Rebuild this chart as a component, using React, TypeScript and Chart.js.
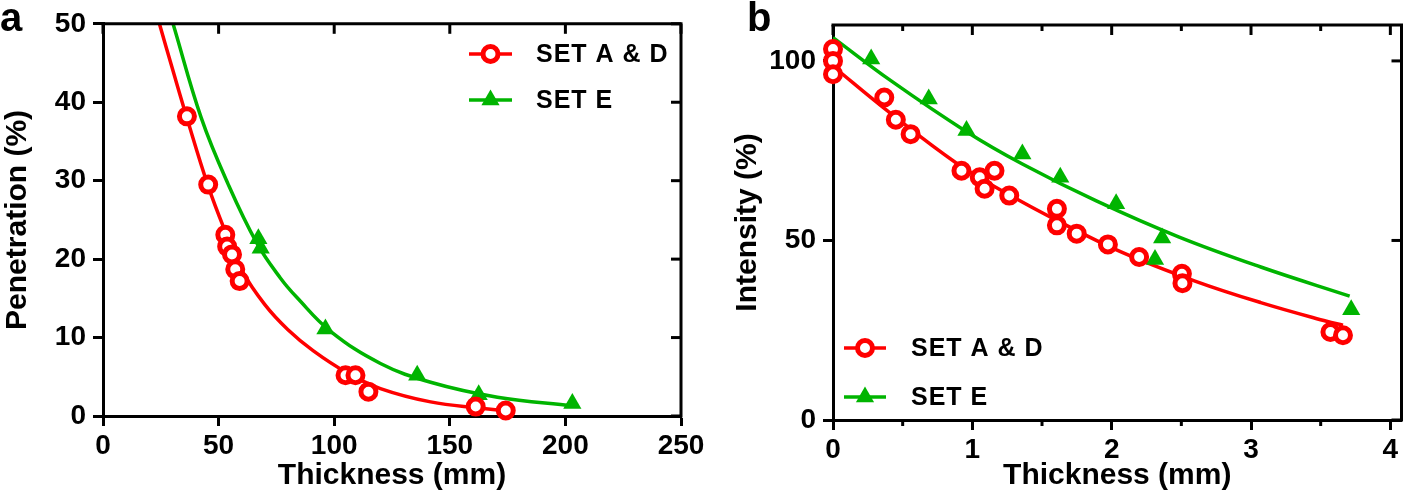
import React, { useEffect, useRef } from 'react';
import { Chart, registerables } from 'chart.js';

Chart.register(...registerables);

// ---------- Panel a data ----------
const aTicksX = [0, 50, 100, 150, 200, 250];
const aTicksY = [0, 10, 20, 30, 40, 50];
const aSetADx = [36.3, 45.5, 52.9, 53.7, 55.8, 57.2, 59.1, 104.9, 109.2, 114.8, 161.2, 174.2];
const aSetADy = [38.2, 29.5, 23.1, 21.6, 20.6, 18.7, 17.2, 5.2, 5.2, 3.1, 1.2, 0.7];
const aSetEx = [67.2, 68.2, 96.2, 135.9, 162.5, 203.0];
const aSetEy = [22.6, 21.4, 11.1, 5.2, 2.7, 1.6];
const aFitADx = [24.4, 30, 36.3, 45.5, 52.9, 60, 70, 80, 91, 105.6, 120, 141.7, 163.3, 174.9];
const aFitADy = [50, 44.3, 38.0, 29.3, 23.5, 18.6, 14.2, 11.0, 8.3, 5.5, 3.5, 1.8, 1.0, 0.65];
const aFitEx = [30.3, 42.5, 54.2, 66.6, 76.7, 83.9, 98.4, 120, 141.7, 170.6, 203.2];
const aFitEy = [50, 38.0, 29.5, 22.0, 17.6, 15.1, 10.8, 6.7, 4.3, 2.4, 1.3];

// ---------- Panel b data ----------
const bTicksX = [0, 1, 2, 3, 4];
const bMinorX = [0.5, 1.5, 2.5, 3.5];
const bTicksY = [0, 50, 100];
const bSetADx = [0, 0, 0, 0.368, 0.451, 0.557, 0.922, 1.053, 1.088, 1.159, 1.265, 1.607, 1.607, 1.749, 1.973, 2.197, 2.504, 2.508, 3.57, 3.66];
const bSetADy = [103.3, 100, 96.3, 89.8, 83.6, 79.6, 69.4, 67.6, 64.4, 69.4, 62.5, 58.8, 54.2, 51.9, 48.9, 45.4, 40.7, 38.1, 24.5, 23.6];
const bSetEx = [0.274, 0.687, 0.958, 1.359, 1.631, 2.032, 2.311, 2.362, 3.719];
const bSetEy = [100.5, 89.4, 80.6, 74.1, 67.6, 60.2, 44.7, 50.7, 30.7];
const bFitADx = [0, 0.4, 0.887, 1.265, 1.595, 2.067, 2.598, 3.07, 3.542, 3.66];
const bFitADy = [98.5, 85.8, 71.5, 62.7, 55.8, 46.8, 38.7, 32.7, 27.5, 26.4];
const bFitEx = [0, 0.415, 0.958, 1.359, 1.89, 2.48, 3.07, 3.708];
const bFitEy = [106.5, 94.5, 80.3, 71.3, 61.0, 51.0, 42.6, 34.5];

const seriesLabels = ['SET A & D', 'SET E'];

const RED = '#ff0000';
const GREEN = '#00b400';
const FONT = "'Liberation Sans', Arial, Helvetica, sans-serif";

const zip = (xs: number[], ys: number[]) => xs.map((x, i) => ({ x, y: ys[i] }));

function drawMarker(ctx: CanvasRenderingContext2D, kind: string, x: number, y: number) {
  ctx.save();
  if (kind === 'circle') {
    ctx.beginPath();
    ctx.arc(x, y, 7.5, 0, Math.PI * 2);
    ctx.fillStyle = '#fff';
    ctx.fill();
    ctx.lineWidth = 5;
    ctx.strokeStyle = RED;
    ctx.stroke();
  } else {
    const r = 10.5;
    ctx.beginPath();
    for (let k = 0; k < 3; k++) {
      const a = (k * 2 * Math.PI) / 3;
      const px = x + Math.sin(a) * r;
      const py = y - Math.cos(a) * r;
      if (k === 0) ctx.moveTo(px, py); else ctx.lineTo(px, py);
    }
    ctx.closePath();
    ctx.fillStyle = GREEN;
    ctx.fill();
  }
  ctx.restore();
}

const framePlugin = {
  id: 'frame',
  afterDraw(chart: any, _args: any, opts: any) {
    const { ctx, chartArea } = chart;
    const { left, right, top, bottom } = chartArea;
    const xs = chart.scales.x;
    const ys = chart.scales.y;
    ctx.save();
    ctx.strokeStyle = '#000';
    ctx.lineWidth = 3;
    ctx.lineCap = 'butt';
    ctx.beginPath();
    ctx.moveTo(left - 1.5, top);
    ctx.lineTo(right, top);
    ctx.lineTo(right, bottom + 1.5);
    ctx.stroke();
    const seg = (x1: number, y1: number, x2: number, y2: number) => {
      ctx.beginPath();
      ctx.moveTo(x1, y1);
      ctx.lineTo(x2, y2);
      ctx.stroke();
    };
    (opts.topMajor || []).forEach((v: number) => {
      const p = xs.getPixelForValue(v);
      seg(p, top, p, top + 10);
    });
    (opts.topMinor || []).forEach((v: number) => {
      const p = xs.getPixelForValue(v);
      seg(p, top, p, top + 6);
      seg(p, bottom, p, bottom + 6);
    });
    (opts.rightMajor || []).forEach((v: number) => {
      const p = ys.getPixelForValue(v);
      seg(right, p, right - 10, p);
    });
    ctx.restore();
  },
};

const legendPlugin = {
  id: 'customLegend',
  afterDraw(chart: any, _args: any, opts: any) {
    const { ctx } = chart;
    ctx.save();
    (opts.items || []).forEach((it: any, i: number) => {
      const y = opts.y + i * opts.gap;
      ctx.strokeStyle = it.color;
      ctx.lineWidth = 3.5;
      ctx.beginPath();
      ctx.moveTo(opts.x, y);
      ctx.lineTo(opts.x + opts.len, y);
      ctx.stroke();
      drawMarker(ctx, it.kind, opts.x + opts.len / 2, y);
      ctx.fillStyle = '#000';
      ctx.font = `bold 25px ${FONT}`;
      (ctx as any).letterSpacing = '1px';
      ctx.textBaseline = 'middle';
      ctx.textAlign = 'left';
      ctx.fillText(it.label, opts.textX, y + 1);
    });
    ctx.restore();
  },
};

function axis(opts: any) {
  return {
    type: 'linear',
    min: opts.min,
    max: opts.max,
    afterBuildTicks: (s: any) => {
      s.ticks = opts.ticks.map((v: number) => ({ value: v }));
    },
    afterFit: opts.afterFit,
    ticks: {
      color: '#000',
      font: { family: FONT, weight: 'bold', size: 28 },
      padding: opts.tickPad,
      autoSkip: false,
      maxRotation: 0,
      callback: (v: any) => String(v),
    },
    grid: {
      display: true,
      drawOnChartArea: false,
      drawTicks: true,
      tickLength: 10,
      tickWidth: 3,
      tickColor: '#000',
    },
    border: { display: true, color: '#000', width: 3 },
    title: {
      display: true,
      text: opts.title,
      color: '#000',
      font: { family: FONT, weight: 'bold', size: 30 },
      padding: { top: 0, bottom: 0 },
    },
  };
}

function makeConfig(p: any) {
  return {
    type: 'scatter',
    data: {
      datasets: [
        {
          label: seriesLabels[0],
          data: p.ad,
          showLine: false,
          pointStyle: 'circle',
          pointRadius: 7.5,
          pointBorderWidth: 5,
          pointBorderColor: RED,
          pointBackgroundColor: '#fff',
          clip: false,
        },
        {
          label: seriesLabels[1],
          data: p.e,
          showLine: false,
          pointStyle: 'triangle',
          pointRadius: 10.5,
          pointBorderWidth: 0,
          pointBorderColor: GREEN,
          pointBackgroundColor: GREEN,
          clip: false,
        },
        {
          label: 'fit A&D',
          data: p.fitAd,
          showLine: true,
          pointRadius: 0,
          borderColor: RED,
          borderWidth: 3.5,
          tension: 0.4,
        },
        {
          label: 'fit E',
          data: p.fitE,
          showLine: true,
          pointRadius: 0,
          borderColor: GREEN,
          borderWidth: 3.5,
          tension: 0.4,
        },
      ],
    },
    options: {
      responsive: false,
      animation: false,
      events: [],
      layout: { padding: p.padding },
      plugins: {
        legend: { display: false },
        tooltip: { enabled: false },
        frame: p.frame,
        customLegend: p.legend,
      },
      scales: {
        x: axis({
          min: p.xMin, max: p.xMax, ticks: p.xTicks, title: 'Thickness (mm)', tickPad: 3,
          afterFit: (s: any) => { s.height = p.xAxisH; },
        }),
        y: axis({
          min: p.yMin, max: p.yMax, ticks: p.yTicks, title: p.yTitle, tickPad: 7,
          afterFit: (s: any) => { s.width = 103; },
        }),
      },
    },
    plugins: [framePlugin, legendPlugin],
  };
}

function ChartCanvas({ config, left, width }: any) {
  const ref = useRef<HTMLCanvasElement>(null);
  useEffect(() => {
    const chart = new Chart(ref.current as HTMLCanvasElement, config);
    return () => chart.destroy();
  }, []);
  return (
    <canvas
      ref={ref}
      width={width}
      height={494}
      style={{ position: 'absolute', left, top: 0, width, height: 494 }}
    />
  );
}

const configA = makeConfig({
  ad: zip(aSetADx, aSetADy),
  e: zip(aSetEx, aSetEy),
  fitAd: zip(aFitADx, aFitADy),
  fitE: zip(aFitEx, aFitEy),
  xMin: 0, xMax: 250, xTicks: aTicksX,
  yMin: 0, yMax: 50, yTicks: aTicksY,
  yTitle: 'Penetration (%)',
  xAxisH: 78,
  padding: { top: 20, right: 49, left: 0, bottom: 0 },
  frame: { topMajor: aTicksX, rightMajor: aTicksY },
  legend: {
    x: 469, len: 43, textX: 536, y: 54, gap: 46,
    items: [
      { label: seriesLabels[0], color: RED, kind: 'circle' },
      { label: seriesLabels[1], color: GREEN, kind: 'triangle' },
    ],
  },
});

const configB = makeConfig({
  ad: zip(bSetADx, bSetADy),
  e: zip(bSetEx, bSetEy),
  fitAd: zip(bFitADx, bFitADy),
  fitE: zip(bFitEx, bFitEy),
  xMin: 0, xMax: 4.08, xTicks: bTicksX,
  yMin: 0, yMax: 110, yTicks: bTicksY,
  yTitle: 'Intensity (%)',
  xAxisH: 74,
  padding: { top: 25, right: 4, left: 0, bottom: 0 },
  frame: { topMajor: bTicksX, topMinor: bMinorX, rightMajor: bTicksY },
  legend: {
    x: 114, len: 42, textX: 181, y: 348, gap: 49,
    items: [
      { label: seriesLabels[0], color: RED, kind: 'circle' },
      { label: seriesLabels[1], color: GREEN, kind: 'triangle' },
    ],
  },
});

export default function App() {
  const labelStyle: React.CSSProperties = {
    position: 'absolute',
    top: -3,
    fontFamily: FONT,
    fontWeight: 'bold',
    fontSize: 40,
    lineHeight: '40px',
    color: '#000',
  };
  return (
    <div style={{ position: 'absolute', left: 0, top: 0, width: 1414, height: 494, background: '#fff', overflow: 'hidden' }}>
      <ChartCanvas config={configA} left={0} width={730} />
      <ChartCanvas config={configB} left={730} width={684} />
      <div style={{ ...labelStyle, left: 0 }}>a</div>
      <div style={{ ...labelStyle, left: 747 }}>b</div>
    </div>
  );
}
